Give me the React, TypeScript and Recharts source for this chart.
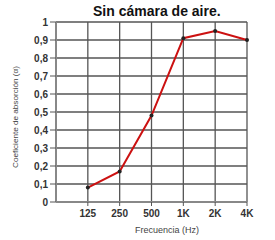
import { LineChart, Line, XAxis, YAxis, CartesianGrid } from "recharts"

const frequencies = ["125", "250", "500", "1K", "2K", "4K"]
const absorption = [0.08, 0.17, 0.48, 0.91, 0.95, 0.9]
const yTicks = [0, 0.1, 0.2, 0.3, 0.4, 0.5, 0.6, 0.7, 0.8, 0.9, 1]

const title = "Sin cámara de aire."
const xTitle = "Frecuencia (Hz)"
const yTitle = "Coeficiente de absorción (α)"

const data = frequencies.map((f, i) => ({ pos: i + 1, label: f, value: absorption[i] }))

const font = "Liberation Sans, Arial, sans-serif"

const YTitle = () => {
  const x = 15
  const y = 117
  return (
    <text x={x} y={y} transform={`rotate(-90, ${x}, ${y})`} textAnchor="middle" dominantBaseline="central"
      fontSize={7.5} textLength={102} lengthAdjust="spacingAndGlyphs" fill="#444" fontFamily={font}>
      {yTitle}
    </text>
  )
}

const XTitle = () => (
  <text x={167} y={230} textAnchor="middle" dominantBaseline="central" fontSize={9} fill="#444" fontFamily={font}>
    {xTitle}
  </text>
)

export default function App() {
  return (
    <div style={{ position: "absolute", left: 0, top: 0, width: 275, height: 240, background: "#fff" }}>
      <div style={{
        position: "absolute", left: 93, top: 3, fontFamily: font,
        fontWeight: "bold", fontSize: 14, color: "#111", whiteSpace: "nowrap",
      }}>
        {title}
      </div>
      <LineChart width={275} height={240} data={data} margin={{ top: 22, right: 28, bottom: 0, left: 0 }}>
        <CartesianGrid stroke="#555" strokeWidth={1.3} />
        <XAxis
          dataKey="pos"
          type="number"
          domain={[0, 6]}
          ticks={[1, 2, 3, 4, 5, 6]}
          tickFormatter={(v: number) => frequencies[v - 1]}
          tick={{ fontSize: 10, fill: "#333", fontWeight: "bold", fontFamily: font }}
          axisLine={{ stroke: "#888", strokeWidth: 2 }}
          tickLine={{ stroke: "#555" }}
          tickSize={4}
          tickMargin={4}
          height={38}
          label={<XTitle />}
        />
        <YAxis
          type="number"
          domain={[0, 1]}
          ticks={yTicks}
          interval={0}
          tickFormatter={(v: number) => (v === 0 || v === 1 ? String(v) : v.toFixed(1).replace(".", ","))}
          tick={{ fontSize: 10, fill: "#333", fontWeight: "bold", fontFamily: font }}
          axisLine={{ stroke: "#888", strokeWidth: 2 }}
          tickLine={{ stroke: "#555" }}
          tickSize={6}
          tickMargin={2}
          width={56}
          label={<YTitle />}
        />
        <Line
          type="linear"
          dataKey="value"
          stroke="#cc1111"
          strokeWidth={2}
          dot={{ fill: "#222", stroke: "none", r: 2 }}
          isAnimationActive={false}
        />
      </LineChart>
    </div>
  )
}
